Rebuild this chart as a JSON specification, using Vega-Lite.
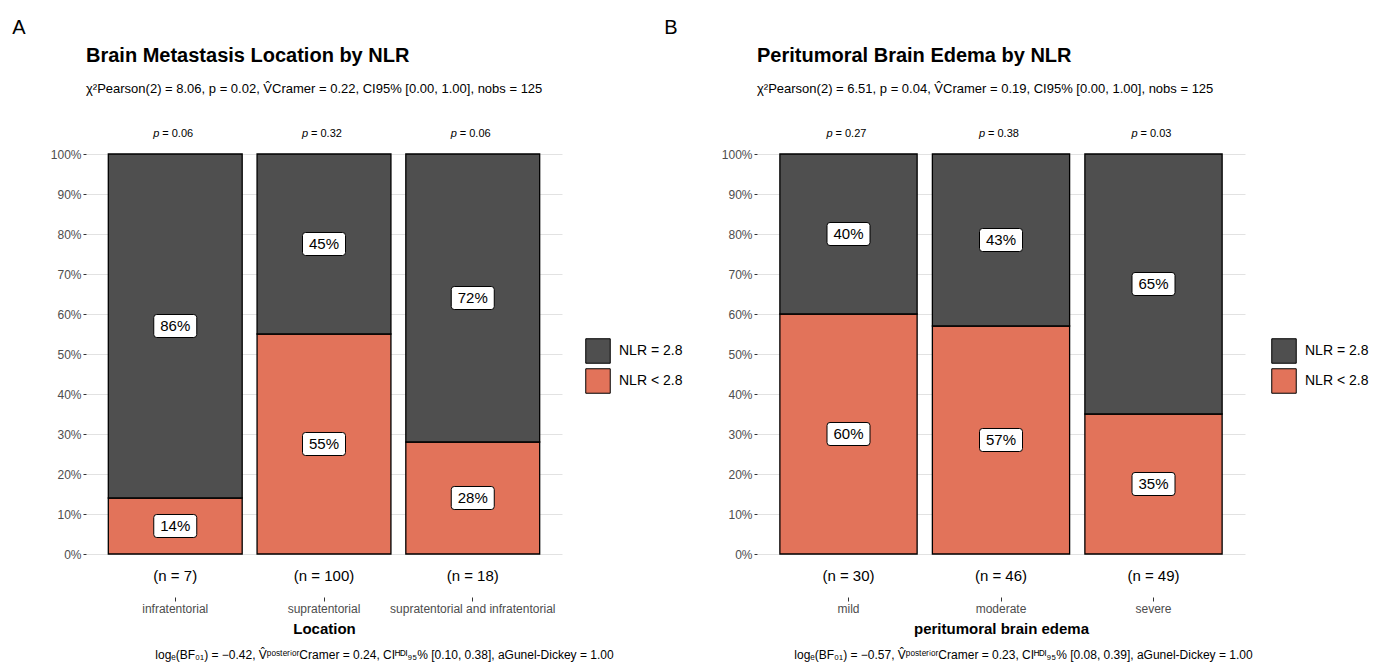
{
  "$schema": "https://vega.github.io/schema/vega-lite/v6.json",
  "background": "white",
  "padding": {"left": 12, "top": 18, "right": 4, "bottom": 2},
  "datasets": {
    "location": [
      {"cat": "infratentorial", "grp": "NLR < 2.8", "frac": 0.14},
      {"cat": "infratentorial", "grp": "NLR = 2.8", "frac": 0.86},
      {"cat": "supratentorial", "grp": "NLR < 2.8", "frac": 0.55},
      {"cat": "supratentorial", "grp": "NLR = 2.8", "frac": 0.45},
      {"cat": "supratentorial and infratentorial", "grp": "NLR < 2.8", "frac": 0.28},
      {"cat": "supratentorial and infratentorial", "grp": "NLR = 2.8", "frac": 0.72}
    ],
    "locationStats": [
      {"cat": "infratentorial", "n": 7, "p": "0.06"},
      {"cat": "supratentorial", "n": 100, "p": "0.32"},
      {"cat": "supratentorial and infratentorial", "n": 18, "p": "0.06"}
    ],
    "edema": [
      {"cat": "mild", "grp": "NLR < 2.8", "frac": 0.60},
      {"cat": "mild", "grp": "NLR = 2.8", "frac": 0.40},
      {"cat": "moderate", "grp": "NLR < 2.8", "frac": 0.57},
      {"cat": "moderate", "grp": "NLR = 2.8", "frac": 0.43},
      {"cat": "severe", "grp": "NLR < 2.8", "frac": 0.35},
      {"cat": "severe", "grp": "NLR = 2.8", "frac": 0.65}
    ],
    "edemaStats": [
      {"cat": "mild", "n": 30, "p": "0.27"},
      {"cat": "moderate", "n": 46, "p": "0.38"},
      {"cat": "severe", "n": 49, "p": "0.03"}
    ]
  },
  "config": {
    "font": "Liberation Sans",
    "view": {"stroke": null},
    "axis": {"labelFont": "Liberation Sans", "titleFont": "Liberation Sans"},
    "axisY": {"title": null, "format": ".0%", "values": [0, 0.05, 0.1, 0.15, 0.2, 0.25, 0.3, 0.35, 0.4, 0.45, 0.5, 0.55, 0.6, 0.65, 0.7, 0.75, 0.8, 0.85, 0.9, 0.95, 1],
      "labelExpr": "round(datum.value * 100) % 10 == 0 ? datum.label : ''", "labelOverlap": false, "domain": false, "labelColor": "#4d4d4d", "labelFontSize": 12, "tickSize": 3, "tickColor": "#333333",
      "tickOpacity": {"condition": {"test": "round(datum.value * 100) % 10 != 0", "value": 0}, "value": 1},
      "gridColor": {"condition": {"test": "round(datum.value * 100) % 10 != 0", "value": "#efefef"}, "value": "#e2e2e2"}, "labelPadding": 2},
    "axisX": {"titleFontWeight": "bold", "titleFontSize": 15, "titleColor": "black", "labelAngle": 0, "labelColor": "#4d4d4d", "labelFontSize": 12, "labelOverlap": false, "labelBound": false, "domain": false, "grid": false, "tickSize": 4, "tickColor": "#333333", "offset": 43, "labelPadding": 2, "titlePadding": 7},
    "legend": {"labelFont": "Liberation Sans", "title": null, "orient": "none", "legendY": 184, "symbolType": "square", "symbolSize": 600, "symbolStrokeColor": "black", "symbolStrokeWidth": 1, "symbolOpacity": 1, "labelFontSize": 14, "labelColor": "black", "labelOffset": 8, "rowPadding": 0, "padding": 0},
    "title": {"font": "Liberation Sans", "subtitleFont": "Liberation Sans", "color": "black", "subtitleColor": "black"}
  },
  "resolve": {"scale": {"color": "independent"}, "legend": {"color": "independent"}},
  "hconcat": [
    {
      "title": {"text": "A", "anchor": "start", "frame": "bounds", "fontSize": 20, "fontWeight": "normal", "dx": -38, "offset": 8},
      "vconcat": [
        {
          "title": {"text": "logₑ(BF₀₁) = −0.42, V̂ᵖᵒˢᵗᵉʳⁱᵒʳCramer = 0.24, CIᴴᴰᴵ₉₅% [0.10, 0.38], aGunel-Dickey = 1.00", "orient": "bottom", "anchor": "start", "frame": "bounds", "fontSize": 12, "fontWeight": "normal", "dx": 105, "offset": 14},
          "vconcat": [
            {
              "width": 476,
              "height": 400,
              "title": {"text": "Brain Metastasis Location by NLR", "subtitle": "χ²Pearson(2) = 8.06, p = 0.02, V̂Cramer = 0.22, CI95% [0.00, 1.00], nobs = 125", "anchor": "start", "frame": "group", "fontSize": 20, "fontWeight": "bold", "subtitleFontSize": 13, "subtitlePadding": 17, "offset": 32},
              "layer": [
                {
                  "data": {"name": "location"},
                  "transform": [{"stack": "frac", "groupby": ["cat"], "sort": [{"field": "grp", "order": "ascending"}], "as": ["y0", "y1"]}],
                  "mark": {"type": "bar", "stroke": "black", "strokeWidth": 1.3},
                  "encoding": {
                    "x": {"field": "cat", "type": "nominal", "sort": ["infratentorial", "supratentorial", "supratentorial and infratentorial"], "scale": {"paddingInner": 0.1, "paddingOuter": 0.15}, "title": "Location"},
                    "y": {"field": "y0", "type": "quantitative", "scale": {"domain": [0, 1], "nice": false}},
                    "y2": {"field": "y1"},
                    "color": {"field": "grp", "type": "nominal", "scale": {"domain": ["NLR = 2.8", "NLR < 2.8"], "range": ["#4f4f4f", "#e2735a"]}, "legend": {"legendX": 499}}
                  }
                },
                {
                  "data": {"name": "location"},
                  "transform": [
                    {"stack": "frac", "groupby": ["cat"], "sort": [{"field": "grp", "order": "ascending"}], "as": ["y0", "y1"]},
                    {"calculate": "(datum.y0 + datum.y1) / 2", "as": "mid"}
                  ],
                  "mark": {"type": "point", "shape": "M-0.86,-0.535L0.86,-0.535Q1,-0.535 1,-0.395L1,0.395Q1,0.535 0.86,0.535L-0.86,0.535Q-1,0.535 -1,0.395L-1,-0.395Q-1,-0.535 -0.86,-0.535Z", "size": 1849, "filled": true, "fill": "white", "stroke": "black", "strokeWidth": 1, "opacity": 1},
                  "encoding": {
                    "x": {"field": "cat", "type": "nominal", "sort": ["infratentorial", "supratentorial", "supratentorial and infratentorial"], "title": "Location"},
                    "y": {"field": "mid", "type": "quantitative"}
                  }
                },
                {
                  "data": {"name": "location"},
                  "transform": [
                    {"stack": "frac", "groupby": ["cat"], "sort": [{"field": "grp", "order": "ascending"}], "as": ["y0", "y1"]},
                    {"calculate": "(datum.y0 + datum.y1) / 2", "as": "mid"}
                  ],
                  "mark": {"type": "text", "fontSize": 15, "color": "black", "baseline": "middle", "align": "center"},
                  "encoding": {
                    "x": {"field": "cat", "type": "nominal", "sort": ["infratentorial", "supratentorial", "supratentorial and infratentorial"], "title": "Location"},
                    "y": {"field": "mid", "type": "quantitative"},
                    "text": {"field": "frac", "type": "quantitative", "format": ".0%"}
                  }
                },
                {
                  "data": {"name": "locationStats"},
                  "mark": {"type": "text", "fontSize": 11, "fontStyle": "italic", "color": "black", "baseline": "bottom", "align": "left", "dx": -22, "dy": -15},
                  "encoding": {
                    "x": {"field": "cat", "type": "nominal", "sort": ["infratentorial", "supratentorial", "supratentorial and infratentorial"], "title": "Location"},
                    "y": {"datum": 1},
                    "text": {"value": "p"}
                  }
                },
                {
                  "data": {"name": "locationStats"},
                  "transform": [{"calculate": "'= ' + datum.p", "as": "plab"}],
                  "mark": {"type": "text", "fontSize": 11, "color": "black", "baseline": "bottom", "align": "left", "dx": -13, "dy": -15},
                  "encoding": {
                    "x": {"field": "cat", "type": "nominal", "sort": ["infratentorial", "supratentorial", "supratentorial and infratentorial"], "title": "Location"},
                    "y": {"datum": 1},
                    "text": {"field": "plab"}
                  }
                },
                {
                  "data": {"name": "locationStats"},
                  "transform": [{"calculate": "'(n = ' + datum.n + ')'", "as": "nlab"}],
                  "mark": {"type": "text", "fontSize": 15, "color": "black", "baseline": "top", "align": "center", "dy": 15},
                  "encoding": {
                    "x": {"field": "cat", "type": "nominal", "sort": ["infratentorial", "supratentorial", "supratentorial and infratentorial"], "title": "Location"},
                    "y": {"datum": 0},
                    "text": {"field": "nlab"}
                  }
                }
              ]
            }
          ]
        }
      ]
    },
    {
      "title": {"text": "B", "anchor": "start", "frame": "bounds", "fontSize": 20, "fontWeight": "normal", "dx": -57, "offset": 8},
      "vconcat": [
        {
          "title": {"text": "logₑ(BF₀₁) = −0.57, V̂ᵖᵒˢᵗᵉʳⁱᵒʳCramer = 0.23, CIᴴᴰᴵ₉₅% [0.08, 0.39], aGunel-Dickey = 1.00", "orient": "bottom", "anchor": "start", "frame": "bounds", "fontSize": 12, "fontWeight": "normal", "dx": 73, "offset": 14},
          "vconcat": [
            {
              "width": 488,
              "height": 400,
              "title": {"text": "Peritumoral Brain Edema by NLR", "subtitle": "χ²Pearson(2) = 6.51, p = 0.04, V̂Cramer = 0.19, CI95% [0.00, 1.00], nobs = 125", "anchor": "start", "frame": "group", "fontSize": 20, "fontWeight": "bold", "subtitleFontSize": 13, "subtitlePadding": 17, "offset": 32},
              "layer": [
                {
                  "data": {"name": "edema"},
                  "transform": [{"stack": "frac", "groupby": ["cat"], "sort": [{"field": "grp", "order": "ascending"}], "as": ["y0", "y1"]}],
                  "mark": {"type": "bar", "stroke": "black", "strokeWidth": 1.3},
                  "encoding": {
                    "x": {"field": "cat", "type": "nominal", "sort": ["mild", "moderate", "severe"], "scale": {"paddingInner": 0.1, "paddingOuter": 0.15}, "title": "peritumoral brain edema"},
                    "y": {"field": "y0", "type": "quantitative", "scale": {"domain": [0, 1], "nice": false}},
                    "y2": {"field": "y1"},
                    "color": {"field": "grp", "type": "nominal", "scale": {"domain": ["NLR = 2.8", "NLR < 2.8"], "range": ["#4f4f4f", "#e2735a"]}, "legend": {"legendX": 514}}
                  }
                },
                {
                  "data": {"name": "edema"},
                  "transform": [
                    {"stack": "frac", "groupby": ["cat"], "sort": [{"field": "grp", "order": "ascending"}], "as": ["y0", "y1"]},
                    {"calculate": "(datum.y0 + datum.y1) / 2", "as": "mid"}
                  ],
                  "mark": {"type": "point", "shape": "M-0.86,-0.535L0.86,-0.535Q1,-0.535 1,-0.395L1,0.395Q1,0.535 0.86,0.535L-0.86,0.535Q-1,0.535 -1,0.395L-1,-0.395Q-1,-0.535 -0.86,-0.535Z", "size": 1849, "filled": true, "fill": "white", "stroke": "black", "strokeWidth": 1, "opacity": 1},
                  "encoding": {
                    "x": {"field": "cat", "type": "nominal", "sort": ["mild", "moderate", "severe"], "title": "peritumoral brain edema"},
                    "y": {"field": "mid", "type": "quantitative"}
                  }
                },
                {
                  "data": {"name": "edema"},
                  "transform": [
                    {"stack": "frac", "groupby": ["cat"], "sort": [{"field": "grp", "order": "ascending"}], "as": ["y0", "y1"]},
                    {"calculate": "(datum.y0 + datum.y1) / 2", "as": "mid"}
                  ],
                  "mark": {"type": "text", "fontSize": 15, "color": "black", "baseline": "middle", "align": "center"},
                  "encoding": {
                    "x": {"field": "cat", "type": "nominal", "sort": ["mild", "moderate", "severe"], "title": "peritumoral brain edema"},
                    "y": {"field": "mid", "type": "quantitative"},
                    "text": {"field": "frac", "type": "quantitative", "format": ".0%"}
                  }
                },
                {
                  "data": {"name": "edemaStats"},
                  "mark": {"type": "text", "fontSize": 11, "fontStyle": "italic", "color": "black", "baseline": "bottom", "align": "left", "dx": -22, "dy": -15},
                  "encoding": {
                    "x": {"field": "cat", "type": "nominal", "sort": ["mild", "moderate", "severe"], "title": "peritumoral brain edema"},
                    "y": {"datum": 1},
                    "text": {"value": "p"}
                  }
                },
                {
                  "data": {"name": "edemaStats"},
                  "transform": [{"calculate": "'= ' + datum.p", "as": "plab"}],
                  "mark": {"type": "text", "fontSize": 11, "color": "black", "baseline": "bottom", "align": "left", "dx": -13, "dy": -15},
                  "encoding": {
                    "x": {"field": "cat", "type": "nominal", "sort": ["mild", "moderate", "severe"], "title": "peritumoral brain edema"},
                    "y": {"datum": 1},
                    "text": {"field": "plab"}
                  }
                },
                {
                  "data": {"name": "edemaStats"},
                  "transform": [{"calculate": "'(n = ' + datum.n + ')'", "as": "nlab"}],
                  "mark": {"type": "text", "fontSize": 15, "color": "black", "baseline": "top", "align": "center", "dy": 15},
                  "encoding": {
                    "x": {"field": "cat", "type": "nominal", "sort": ["mild", "moderate", "severe"], "title": "peritumoral brain edema"},
                    "y": {"datum": 0},
                    "text": {"field": "nlab"}
                  }
                }
              ]
            }
          ]
        }
      ]
    }
  ],
  "spacing": -19
}
